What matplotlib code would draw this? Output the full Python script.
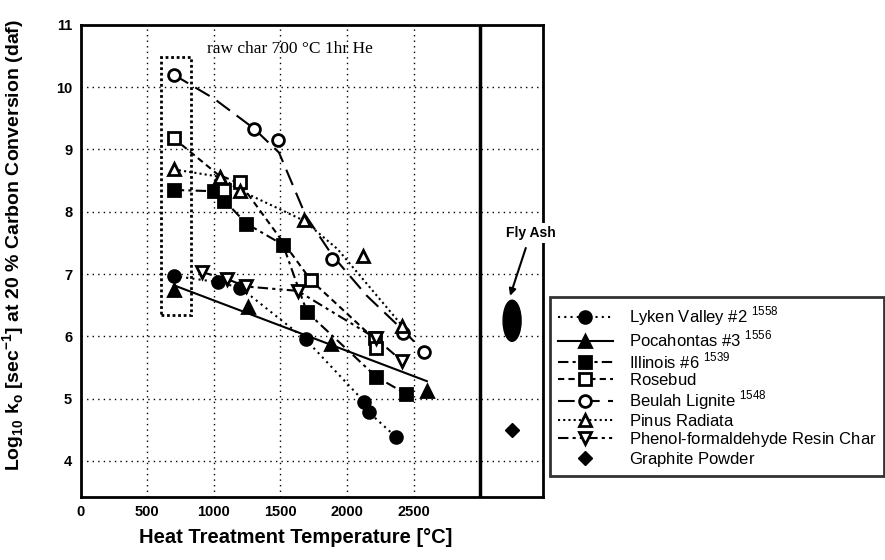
import numpy as np
import matplotlib
matplotlib.use("Agg")
import matplotlib.pyplot as plt
from matplotlib.patches import Ellipse, Rectangle
from matplotlib.lines import Line2D

plt.rcParams['font.family'] = ['Liberation Sans', 'DejaVu Sans']
plt.rcParams['mathtext.fontset'] = 'custom'
plt.rcParams['mathtext.rm'] = 'Liberation Sans'
plt.rcParams['mathtext.bf'] = 'Liberation Sans:bold'

# measured points (temperature, log10 k0)
lyken_x = [700, 1030, 1200, 1690, 2130, 2165, 2370]
lyken_y = [6.97, 6.87, 6.78, 5.95, 4.95, 4.78, 4.38]
poca_x = [700, 1260, 1880, 2600]
poca_y = [6.75, 6.47, 5.87, 5.13]
ill_x = [700, 1000, 1080, 1245, 1520, 1700, 2220, 2440]
ill_y = [8.35, 8.33, 8.18, 7.81, 7.47, 6.39, 5.35, 5.08]
rose_x = [700, 1080, 1200, 1730, 2210, 2215]
rose_y = [9.18, 8.35, 8.48, 6.9, 5.97, 5.82]
beulah_x = [700, 1300, 1480, 1890, 2420, 2580]
beulah_y = [10.2, 9.33, 9.15, 7.24, 6.05, 5.75]
pinus_x = [700, 1050, 1200, 1675, 2120, 2415]
pinus_y = [8.68, 8.56, 8.34, 7.86, 7.29, 6.17]
phenol_x = [910, 1100, 1240, 1630, 2215, 2415]
phenol_y = [7.03, 6.92, 6.8, 6.73, 5.97, 5.6]
graphite_x = [3240]
graphite_y = [4.5]
flyash_x, flyash_y = 3240, 6.25

# trend lines as drawn in the figure
lyken_fx, lyken_fy = lyken_x, lyken_y
poca_fx = [700, 2600]
poca_fy = [6.82, 5.28]
ill_fx, ill_fy = ill_x, ill_y
rose_fx = [700, 1030, 1200, 1730, 2210]
rose_fy = [9.18, 8.6, 8.45, 6.9, 5.95]
beulah_fx = [700, 1000, 1300, 1490, 1690, 1890, 2150, 2420, 2580]
beulah_fy = [10.2, 9.82, 9.34, 8.95, 7.94, 7.3, 6.65, 6.1, 5.75]
pinus_fx = [700, 1050, 1200, 1675, 1930, 2415]
pinus_fy = [8.68, 8.56, 8.34, 7.86, 7.4, 6.17]
phenol_fx, phenol_fy = phenol_x, phenol_y

# "$^{\ }$" keeps every legend row the same height
labels = [r"Lyken Valley #2 $^{1558}$", r"Pocahontas #3 $^{1556}$",
          r"Illinois #6 $^{1539}$", r"Rosebud$^{\ }$", r"Beulah Lignite $^{1548}$",
          r"Pinus Radiata$^{\ }$", r"Phenol-formaldehyde Resin Char$^{\ }$",
          r"Graphite Powder$^{\ }$"]

fig = plt.figure(figsize=(8.85, 5.6), dpi=100)
ax = fig.add_axes([0.091, 0.1125, 0.523, 0.843])

series = [
    (lyken_x, lyken_y, lyken_fx, lyken_fy, 'o', 'k', (0, (1, 2))),
    (poca_x, poca_y, poca_fx, poca_fy, '^', 'k', '-'),
    (ill_x, ill_y, ill_fx, ill_fy, 's', 'k', (0, (5, 2, 1.5, 2))),
    (rose_x, rose_y, rose_fx, rose_fy, 's', 'none', (0, (3, 2))),
    (beulah_x, beulah_y, beulah_fx, beulah_fy, 'o', 'none', (0, (8, 4))),
    (pinus_x, pinus_y, pinus_fx, pinus_fy, '^', 'none', (0, (1, 1.5))),
    (phenol_x, phenol_y, phenol_fx, phenol_fy, 'v', 'none', (0, (5, 2, 1.5, 2, 1.5, 2))),
]
handles = []
for px, py, fx, fy, m, fc, ls in series:
    face = fc if fc != 'none' else 'white'
    ax.plot(fx, fy, color='k', lw=1.5, ls=ls, zorder=2)
    ax.plot(px, py, ls='none', marker=m, ms=8.5, mfc=face, mec='k', mew=2, zorder=3)
    handles.append(Line2D([], [], color='k', lw=1.5, ls=ls, marker=m, ms=8.5,
                          mfc=face, mec='k', mew=2))
ax.plot(graphite_x, graphite_y, ls='none', marker='D', ms=7, color='k', zorder=3)
handles.append(Line2D([], [], ls='none', marker='D', ms=7, color='k'))

ax.add_patch(Ellipse((flyash_x, flyash_y), 135, 0.66, color='k', zorder=3))
ax.annotate("Fly Ash", xy=(3225, 6.65), xytext=(3380, 7.66), ha='center', va='center',
            fontsize=10, fontweight='bold', annotation_clip=False, zorder=5,
            bbox=dict(fc='white', ec='none', pad=2),
            arrowprops=dict(arrowstyle='-|>', color='k', lw=1.5,
                            shrinkA=4, shrinkB=0, mutation_scale=10))

ax.add_patch(Rectangle((605, 6.34), 226, 4.14, fill=False, ec='k', lw=2,
                       ls=(0, (1, 1)), zorder=2))
ax.text(1575, 10.62, "raw char 700 \u00b0C 1hr He", family='Liberation Serif',
        fontsize=12.5, ha='center', va='center')

ax.axvline(3000, color='k', lw=2.5, zorder=4)

ax.set_xlim(0, 3475)
ax.set_ylim(3.42, 11.0)
ax.set_xticks([0, 500, 1000, 1500, 2000, 2500])
ax.set_yticks([4, 5, 6, 7, 8, 9, 10, 11])
ax.tick_params(length=0, labelsize=10.5, pad=6)
for t in ax.get_xticklabels() + ax.get_yticklabels():
    t.set_fontweight('bold')
ax.xaxis.grid(True, color='k', ls=(0, (1, 3)), lw=1)
ax.yaxis.grid(True, color='k', ls=(0, (1, 3)), lw=1)
for sp in ax.spines.values():
    sp.set_linewidth(2)

ax.set_xlabel("Heat Treatment Temperature [\u00b0C]", fontsize=14.5, fontweight='bold')
ax.xaxis.set_label_coords(0.464, -0.066)
ax.set_ylabel(r"Log$_\mathbf{10}$ k$_\mathbf{o}$ [sec$^\mathbf{-1}$] at 20 % Carbon Conversion (daf)",
              fontsize=14, fontweight='bold')
ax.yaxis.set_label_coords(-0.115, 0.534)

leg = fig.legend(handles, labels, loc='upper left', bbox_to_anchor=(0.6215, 0.4696),
                 fontsize=12, handlelength=3.3, labelspacing=0.05, borderpad=0.45,
                 borderaxespad=0, frameon=True, fancybox=False, handletextpad=1.0)
leg.get_frame().set_edgecolor('k')
leg.get_frame().set_linewidth(2)

fig.savefig("out.png", dpi=100)
